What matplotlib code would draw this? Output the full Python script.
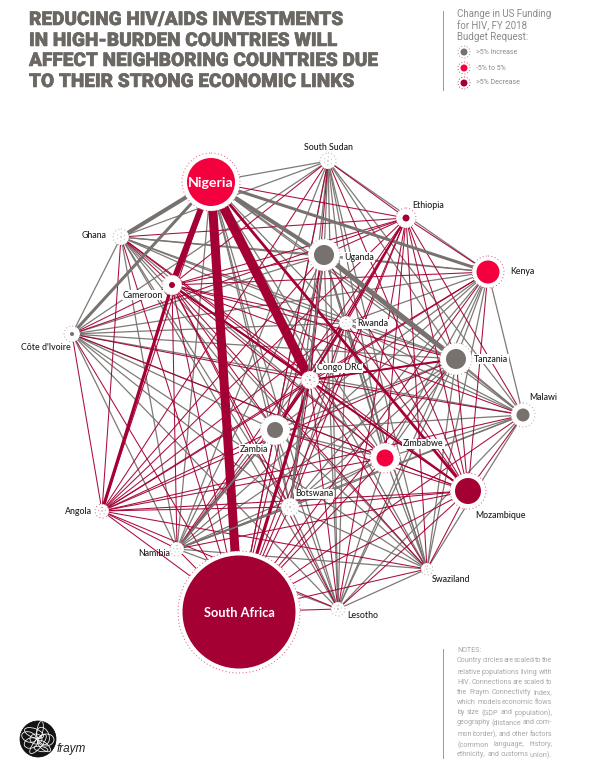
import itertools

import matplotlib
matplotlib.use("Agg")
import matplotlib.pyplot as plt
import matplotlib.patheffects as pe
from matplotlib.patches import Circle, Ellipse

GRAY = "#77726e"
CRIMSON = "#a50034"
RED = "#f5003f"
TITLE_COL = "#6b6864"
NOTE_COL = "#a9a7a5"

# node data (pixels)
countries = ["Nigeria", "South Sudan", "Ethiopia", "Kenya", "Uganda", "Ghana", "Cameroon",
             "Côte d'Ivoire", "Rwanda", "Tanzania", "Congo DRC", "Malawi", "Zambia", "Zimbabwe",
             "Botswana", "Mozambique", "Angola", "Namibia", "South Africa", "Swaziland", "Lesotho"]
node_x = [211, 328, 406, 488, 324, 121, 172, 72, 346, 456, 310, 523, 275, 385, 290, 468, 102, 177, 239, 427, 338]
node_y = [182, 161, 218, 272, 255, 237, 285, 334, 323, 359, 380, 415, 430, 458, 507, 491, 511, 549, 612, 569, 609]
node_r = [24, 0.6, 3.5, 11.5, 10, 0.6, 3, 2, 0.4, 10, 0.7, 6.5, 8, 8.5, 0.7, 13, 0.5, 0.5, 56.5, 0.5, 0.7]
halo_r = [29, 8, 10, 16, 16, 8, 10, 8, 7, 16, 9, 12, 15, 15, 9, 18, 7, 7, 61, 6, 7]
funding = ["mid", "up", "down", "mid", "up", "up", "down", "up", "up", "up", "down", "up", "up", "mid",
           "up", "down", "down", "up", "down", "up", "up"]

# label position and alignment
label_x = [211, 328, 412, 510, 344, 107, 143, 46, 357, 474, 317, 529, 254, 403, 295, 475, 92, 170, 239, 432, 347]
label_y = [183, 147, 206, 272, 257, 236, 295, 347, 324, 359, 368, 398, 449, 444, 494, 515, 512, 554, 613, 579, 615]
label_ha = ["center", "center", "left", "left", "left", "right", "center", "center", "left", "left", "left",
            "left", "center", "left", "left", "left", "right", "right", "center", "left", "left"]

# connections that stand out from the thin ones, width in pixels
heavy_a = ["Nigeria", "Nigeria", "Nigeria", "Nigeria", "Nigeria", "Nigeria", "Nigeria", "Côte d'Ivoire",
           "Uganda", "Cameroon", "South Africa", "Congo DRC", "Cameroon", "Cameroon", "Ethiopia",
           "Namibia", "Namibia", "Zambia", "Botswana"]
heavy_b = ["South Africa", "Congo DRC", "Cameroon", "Ghana", "Uganda", "Kenya", "Mozambique", "Nigeria",
           "Tanzania", "Angola", "Congo DRC", "Tanzania", "Congo DRC", "Mozambique", "Congo DRC",
           "Zambia", "Botswana", "Congo DRC", "Uganda"]
heavy_w = [9, 9.5, 6, 4, 4, 3, 2.8, 3,
           5, 3.2, 3.2, 2, 1.8, 1.8, 1.6,
           2, 1.6, 2, 1.6]

title_lines = ["REDUCING HIV/AIDS INVESTMENTS", "IN HIGH-BURDEN COUNTRIES WILL",
               "AFFECT NEIGHBORING COUNTRIES DUE", "TO THEIR STRONG ECONOMIC LINKS"]
title_y = [20, 41, 61, 82]
legend_head = ["Change in US Funding", "for HIV, FY 2018", "Budget Request:"]
legend_head_y = [14, 26, 37]
legend_labels = [">5% Increase", "-5% to 5%", ">5% Decrease"]
legend_y = [52, 68, 83]
legend_cols = [GRAY, RED, CRIMSON]
note_lines = ["NOTES:", "Country circles are scaled to the", "relative populations living with",
              "HIV. Connections are scaled to", "the Fraym Connectivity Index,", "which models economic flows",
              "by size (GDP and population),", "geography (distance and com-", "mon border), and other factors",
              "(common language, history,", "ethnicity, and customs union)."]
note_y = [651, 661, 672, 683, 693, 703, 713, 723, 734, 745, 755]

# white strands of the logo mesh: offset from centre, size, angle
mesh_dx = [-4, 5, 0, -7, 6, 2, -2, 8, -9, 3]
mesh_dy = [-6, -3, 5, 4, 7, -9, 0, 1, -2, 10]
mesh_w = [20, 18, 24, 14, 16, 18, 12, 12, 10, 14]
mesh_h = [9, 12, 8, 10, 7, 6, 10, 16, 15, 5]
mesh_a = [20, 70, 130, 160, 40, 100, 0, 85, 110, 10]

fill = {"up": GRAY, "mid": RED, "down": CRIMSON}
pos = {c: (x, y) for c, x, y in zip(countries, node_x, node_y)}
state = dict(zip(countries, funding))

fig = plt.figure(figsize=(5.98, 7.74), dpi=100)
ax = fig.add_axes([0, 0, 1, 1])
ax.set_xlim(0, 598)
ax.set_ylim(774, 0)
ax.axis("off")


def px(w):
    return w * 0.72


def edge_color(a, b):
    return CRIMSON if "down" in (state[a], state[b]) else GRAY


def justified(words, x0, x1, y, **kw):
    # spread the words of one note line across the column
    renderer = fig.canvas.get_renderer()
    items = [ax.text(x0, y, w, va="center", **kw) for w in words]
    widths = [t.get_window_extent(renderer).width for t in items]
    gap = (x1 - x0 - sum(widths)) / max(len(words) - 1, 1)
    x = x0
    for t, w in zip(items, widths):
        t.set_x(x)
        x += w + gap


# thin connections first, heavy ones on top
for a, b in itertools.combinations(countries, 2):
    col = edge_color(a, b)
    ax.plot([pos[a][0], pos[b][0]], [pos[a][1], pos[b][1]], color=col,
            lw=px(1.25 if col == GRAY else 1.05), alpha=0.95, zorder=2 if col == GRAY else 2.5,
            solid_capstyle="butt")
for a, b, w in zip(heavy_a, heavy_b, heavy_w):
    ax.plot([pos[a][0], pos[b][0]], [pos[a][1], pos[b][1]], color=edge_color(a, b),
            lw=px(w), zorder=3, solid_capstyle="butt")

for c, x, y, r, h, f in zip(countries, node_x, node_y, node_r, halo_r, funding):
    ring = "#b9a0a8" if f == "up" else "#d8567c"
    ax.add_patch(Circle((x, y), h, fc="white", ec="none", zorder=4))
    ax.add_patch(Circle((x, y), h, fc="none", ec=ring, lw=0.7, ls=(0, (1, 2.5)), zorder=5))
    if r < 2:
        ax.add_patch(Circle((x, y), h * 0.5, fc="none", ec=ring, lw=0.6, ls=(0, (1, 4)), zorder=5))
    ax.add_patch(Circle((x, y), r, fc=fill[f], ec="none", zorder=6))

# the labels drawn over the lines carry a white box
boxed = ["Congo DRC", "Rwanda", "Zimbabwe", "Botswana", "Zambia", "Uganda", "Tanzania", "Cameroon"]
for c, x, y, ha in zip(countries, label_x, label_y, label_ha):
    if c in ("Nigeria", "South Africa"):
        ax.text(x, y, c, color="white", fontsize=10.2 if c == "Nigeria" else 9.2, family="Lato",
                fontweight="bold", ha="center", va="center", zorder=8)
    else:
        box = dict(fc="white", ec="none", pad=0.6) if c in boxed else None
        ax.text(x, y, c, color="#1a1a1a", fontsize=6.3, family="Lato", fontweight="medium",
                ha=ha, va="center", bbox=box, zorder=7)

for line, y in zip(title_lines, title_y):
    ax.text(29, y, line, color=TITLE_COL, fontsize=13.7, family="Roboto", fontweight="black",
            va="center", ha="left",
            path_effects=[pe.withStroke(linewidth=0.4, foreground=TITLE_COL)])

ax.plot([443, 443], [11, 90], color="#8a8886", lw=0.6)
for line, y in zip(legend_head, legend_head_y):
    ax.text(457, y, line, color="#8d8b89", fontsize=7.0, family="Roboto", va="center")
for lab, y, col in zip(legend_labels, legend_y, legend_cols):
    ax.add_patch(Circle((464, y), 6, fc="white", ec=col, lw=0.6, ls=(0, (1, 2.5))))
    ax.add_patch(Circle((464, y), 3.5, fc=col, ec="none"))
    ax.text(476, y, lab, color="#8d8b89", fontsize=5.0, family="Roboto", va="center")

ax.plot([443, 443], [649, 758], color="#8a8886", lw=0.6)
for i, (line, y) in enumerate(zip(note_lines, note_y)):
    if i == 0:
        ax.text(457, y, line, color=NOTE_COL, fontsize=5.1, family="Roboto", va="center")
    else:
        justified(line.split(), 457, 552, y, color=NOTE_COL, fontsize=5.1, family="Roboto")

# fraym logo, a wire globe
cx, cy = 38, 739
ax.add_patch(Circle((cx, cy), 18, fc="#141414", ec="black", lw=0.5))
globe = Circle((cx, cy), 18, transform=ax.transData)
for dx, dy, w, h, a in zip(mesh_dx, mesh_dy, mesh_w, mesh_h, mesh_a):
    strand = Ellipse((cx + dx, cy + dy), w, h, angle=a, fc="none", ec="white", lw=0.55)
    ax.add_patch(strand)
    strand.set_clip_path(globe)
ax.text(57, 749, "fraym", color="#222222", fontsize=8.5, style="italic",
        family=["Liberation Sans Narrow", "Liberation Sans", "DejaVu Sans"], va="center")

fig.savefig("out.png", dpi=100, facecolor="white")
